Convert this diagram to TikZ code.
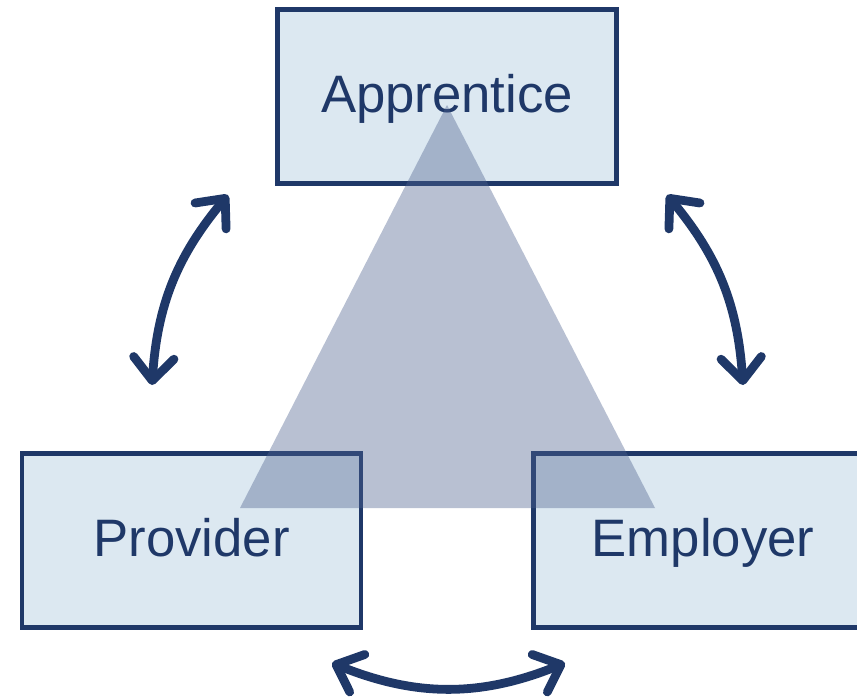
\documentclass[tikz,border=0pt]{standalone}
\usepackage{fontspec}
\setmainfont{Liberation Sans}
\usetikzlibrary{arrows.meta}
\definecolor{navy}{RGB}{31,56,104}
\definecolor{boxfill}{RGB}{220,232,241}
\definecolor{trifill}{RGB}{78,98,143}

\begin{document}
\begin{tikzpicture}[x=0.02cm,y=-0.02cm,
  party/.style={draw=navy,line width=2.8pt,fill=boxfill,text=navy,inner sep=0pt,
    minimum width=6.78cm,minimum height=3.48cm,text height=20pt,text depth=2pt,
    font=\fontsize{30}{36}\selectfont},
  link/.style={draw=navy,line width=5pt,line cap=round,
    {Straight Barb[length=13pt,width=23pt,round]}-{Straight Barb[length=13pt,width=23pt,round]}}]
\useasboundingbox (0,0) rectangle (857,698);
\clip (0,0) rectangle (857,698);
\node[party] (apprentice) at (447,96.5) {Apprentice};
\node[party] (provider) at (191.5,540.5) {Provider};
\node[party] (employer) at (703,540.5) {Employer};
\fill[trifill,fill opacity=0.4] (447,105) -- (240,508) -- (655,508) -- cycle;
\coordinate (pa1) at (152,385);
\coordinate (pa2) at (228,195);
\coordinate (ae1) at (667,195);
\coordinate (ae2) at (743,385);
\coordinate (pe1) at (332,663);
\coordinate (pe2) at (565,663);
\draw[link] (pa1) to[bend left=18] (pa2);
\draw[link] (ae1) to[bend left=18] (ae2);
\draw[link] (pe1) to[bend right=22] (pe2);
\end{tikzpicture}
\end{document}
